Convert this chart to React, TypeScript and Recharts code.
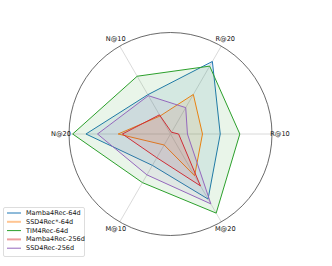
import { RadarChart, Radar, PolarGrid, PolarAngleAxis, PolarRadiusAxis } from "recharts";

const metrics = ["R@10", "R@20", "N@10", "N@20", "M@10", "M@20"];

const mamba64 = [0.49, 0.825, 0.447, 0.833, 0.357, 0.74];
const ssdStar64 = [0.315, 0.45, 0.205, 0.516, 0.125, 0.475];
const tim64 = [0.683, 0.772, 0.657, 0.964, 0.553, 0.9];
const mamba256 = [0.08, 0.02, 0.218, 0.474, 0.27, 0.59];
const ssd256 = [0.167, 0.3, 0.436, 0.719, 0.465, 0.795];

const series = [
  { key: "mamba64", name: "Mamba4Rec-64d", values: mamba64, color: "#1f77b4" },
  { key: "ssdStar64", name: "SSD4Rec*-64d", values: ssdStar64, color: "#ff7f0e" },
  { key: "tim64", name: "TIM4Rec-64d", values: tim64, color: "#2ca02c" },
  { key: "mamba256", name: "Mamba4Rec-256d", values: mamba256, color: "#d62728" },
  { key: "ssd256", name: "SSD4Rec-256d", values: ssd256, color: "#9467bd" },
];

// the legend in the original draws two of the swatches thicker and faded
const fadedSwatch: Record<string, boolean> = { ssdStar64: true, mamba256: true };

const data = metrics.map((m, i) => {
  const row: Record<string, string | number> = { metric: m };
  series.forEach((s) => (row[s.key] = s.values[i]));
  return row;
});

const CX = 170.5;
const CY = 134;
const R = 101.5;
const FONT = "'DejaVu Sans', sans-serif";

// label centred just outside the circle; the name is picked from the
// direction so it sits on the spoke where that metric's points are drawn
function AngleTick(props: any) {
  const { x, y } = props;
  const dx = x - CX;
  const dy = y - CY;
  const len = Math.sqrt(dx * dx + dy * dy) || 1;
  const deg = (Math.atan2(-dy, dx) * 180) / Math.PI;
  const idx = ((Math.round(deg / 60) % 6) + 6) % 6;
  const tx = CX + (dx / len) * (R + 8);
  const ty = CY + (dy / len) * (R + 8);
  return (
    <text x={tx} y={ty} textAnchor="middle" dominantBaseline="central" fontSize={6.6} fontFamily={FONT} fill="#111">
      {metrics[idx]}
    </text>
  );
}

function LegendBox() {
  return (
    <div
      style={{
        position: "absolute",
        left: 3,
        top: 207,
        width: 82,
        height: 50,
        border: "1px solid #ddd",
        borderRadius: 2,
        background: "rgba(255,255,255,0.8)",
        boxSizing: "border-box",
      }}
    >
      <svg width={82} height={50}>
        {series.map((s, i) => {
          const faded = fadedSwatch[s.key];
          return (
            <g key={s.key}>
              <line
                x1={3}
                x2={17}
                y1={5 + i * 8.8}
                y2={5 + i * 8.8}
                stroke={s.color}
                strokeWidth={faded ? 2 : 1}
                strokeOpacity={faded ? 0.45 : 1}
              />
              <text x={22} y={5 + i * 8.8} dominantBaseline="central" fontSize={6.5} fontFamily={FONT} fill="#111">
                {s.name}
              </text>
            </g>
          );
        })}
      </svg>
    </div>
  );
}

export default function App() {
  return (
    <div style={{ position: "absolute", left: 0, top: 0, width: 332, height: 266, background: "#fff" }}>
      <RadarChart
        width={332}
        height={266}
        data={data}
        cx={CX}
        cy={CY}
        outerRadius={R}
        startAngle={-60}
        endAngle={300}
        margin={{ top: 0, right: 0, bottom: 0, left: 0 }}
      >
        <PolarGrid gridType="circle" polarRadius={[]} stroke="#d0d0d0" strokeWidth={0.8} />
        <PolarGrid gridType="circle" radialLines={false} polarRadius={[R]} stroke="#444" strokeWidth={0.8} />
        <PolarAngleAxis dataKey="metric" tick={<AngleTick />} axisLine={false} tickLine={false} />
        <PolarRadiusAxis domain={[0, 1]} tick={false} axisLine={false} />
        {series.map((s) => (
          <Radar
            key={s.key}
            name={s.name}
            dataKey={s.key}
            stroke={s.color}
            strokeWidth={1}
            fill={s.color}
            fillOpacity={0.1}
            isAnimationActive={false}
          />
        ))}
      </RadarChart>
      <LegendBox />
    </div>
  );
}
